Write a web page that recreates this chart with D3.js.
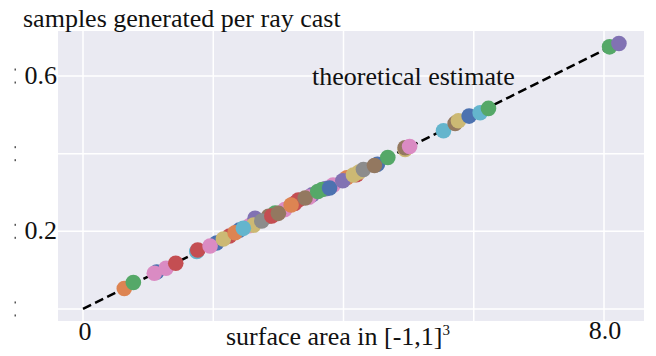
<!DOCTYPE html>
<html>
<head>
<meta charset="utf-8">
<script src="https://cdn.jsdelivr.net/npm/d3@7"></script>
<style>
  body { margin: 0; background: #fff; }
  svg { display: block; }
</style>
</head>
<body>
<div id="chart"></div>
<script>
// measured samples (surface area, samples per ray) and which colour each run got
const pointX = [1.132, 1.747, 2.40, 2.555, 2.642, 2.85, 3.307, 3.10, 3.52, 3.84, 4.05, 4.20, 4.521, 4.946,
  2.05, 2.25, 2.62, 2.95, 3.25, 3.47, 3.73,
  0.634, 0.773, 1.095, 1.275, 1.424, 1.762, 1.951, 2.155, 2.335, 2.462, 2.745, 2.899, 3.0, 3.195, 3.41,
  3.605, 3.671, 3.786, 3.989, 4.152, 4.24, 4.306, 4.475, 4.680, 4.946, 5.015, 5.535, 5.714, 5.765,
  5.929, 6.098, 6.226, 8.085, 8.229];
const pointY = [0.0952, 0.1480, 0.2030, 0.2144, 0.2335, 0.2390, 0.2806, 0.2560, 0.2940, 0.3190, 0.3380, 0.3460, 0.3725, 0.4111,
  0.1700, 0.1880, 0.2160, 0.2470, 0.2720, 0.2880, 0.3100,
  0.0528, 0.0682, 0.0919, 0.1048, 0.1179, 0.1519, 0.1622, 0.1802, 0.1964, 0.2077, 0.2265, 0.2394, 0.2463, 0.2677, 0.2857,
  0.3024, 0.3076, 0.3115, 0.3302, 0.3449, 0.3526, 0.3591, 0.3694, 0.3900, 0.4152, 0.4183, 0.4589, 0.4780, 0.4847,
  0.4968, 0.5053, 0.5166, 0.6752, 0.6839];
const pointSeries = [0, 9, 0, 6, 4, 5, 3, 6, 4, 6, 1, 3, 0, 8,
  0, 3, 8, 2, 3, 6, 4,
  1, 2, 6, 6, 3, 3, 6, 8, 1, 9, 7, 3, 5, 1, 5,
  2, 2, 0, 4, 8, 8, 7, 5, 2, 5, 6, 9, 5, 8,
  0, 9, 2, 2, 4];

// theoretical estimate line
const estimateX = [0, 8.23];
const estimateY = [0, 0.686];

const xTicks = [0, 2, 4, 6, 8];
const xTickLabels = ['0', '', '', '', '8.0'];
const yTicks = [0, 0.2, 0.4, 0.6];
const yTickLabels = ['', '0.2', '', '0.6'];

const palette = ['#4C72B0', '#DD8452', '#55A868', '#C44E52', '#8172B3',
  '#937860', '#DA8BC3', '#8C8C8C', '#CCB974', '#64B5CD'];

const serif = '"Liberation Serif", "Times New Roman", "DejaVu Serif", serif';

const W = 656, H = 356;
const plot = { left: 58, top: 31, right: 644, bottom: 321 };

const x = d3.scaleLinear().domain([-0.384, 8.614]).range([plot.left, plot.right]);
const y = d3.scaleLinear().domain([-0.031, 0.716]).range([plot.bottom, plot.top]);
const color = d3.scaleOrdinal().domain(d3.range(10)).range(palette);

const svg = d3.select('#chart').append('svg')
  .attr('width', W)
  .attr('height', H)
  .attr('font-family', serif);

svg.append('rect')
  .attr('x', plot.left).attr('y', plot.top)
  .attr('width', plot.right - plot.left)
  .attr('height', plot.bottom - plot.top)
  .attr('fill', '#EAEAF2');

// grid
svg.append('g').selectAll('line').data(xTicks).join('line')
  .attr('x1', d => x(d)).attr('x2', d => x(d))
  .attr('y1', plot.top).attr('y2', plot.bottom)
  .attr('stroke', '#fff').attr('stroke-width', 1.5);
svg.append('g').selectAll('line').data(yTicks).join('line')
  .attr('x1', plot.left).attr('x2', plot.right)
  .attr('y1', d => y(d)).attr('y2', d => y(d))
  .attr('stroke', '#fff').attr('stroke-width', 1.5);

// dashed estimate
const line = d3.line().x(d => x(d[0])).y(d => y(d[1]));
svg.append('path')
  .datum(d3.zip(estimateX, estimateY))
  .attr('d', line)
  .attr('fill', 'none')
  .attr('stroke', '#000')
  .attr('stroke-width', 2.5)
  .attr('stroke-dasharray', '9,4.5');

// points
svg.append('g').selectAll('circle').data(d3.range(pointX.length)).join('circle')
  .attr('cx', i => x(pointX[i]))
  .attr('cy', i => y(pointY[i]))
  .attr('r', 7.8)
  .attr('fill', i => color(pointSeries[i]));

// tick labels
svg.append('g').selectAll('text').data(xTicks).join('text')
  .attr('x', d => x(d) + (d === 0 ? 2 : 1))
  .attr('y', (d, i) => i === 0 ? 340 : 339)
  .attr('text-anchor', 'middle')
  .attr('font-size', 26)
  .attr('fill', '#111')
  .text((d, i) => xTickLabels[i]);

svg.append('g').selectAll('text').data(yTicks).join('text')
  .attr('x', plot.left - 1)
  .attr('y', d => y(d) + 8)
  .attr('text-anchor', 'end')
  .attr('font-size', 26)
  .attr('fill', '#111')
  .text((d, i) => yTickLabels[i]);

// stray minor marks at the far left
const marks = yTicks.flatMap(d => [y(d) - 6.5, y(d) + 6.5]);
svg.append('g').selectAll('rect').data(marks).join('rect')
  .attr('x', 14.5).attr('y', d => d - 1)
  .attr('width', 1.5).attr('height', 2)
  .attr('fill', '#555');

// labels
svg.append('text')
  .attr('x', 23).attr('y', 27)
  .attr('font-size', 26)
  .attr('fill', '#111')
  .text('samples generated per ray cast');

svg.append('text')
  .attr('x', 226).attr('y', 345)
  .attr('font-size', 26)
  .attr('fill', '#111')
  .text('surface area in [-1,1]')
  .append('tspan')
  .attr('dy', -10)
  .attr('font-size', 15)
  .text('3');

svg.append('text')
  .attr('x', 312).attr('y', 85)
  .attr('font-size', 26)
  .attr('fill', '#111')
  .text('theoretical estimate');
</script>
</body>
</html>
